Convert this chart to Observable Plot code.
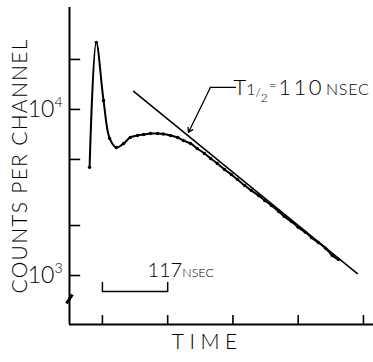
<!DOCTYPE html>
<html><head><meta charset="utf-8">
<script src="https://cdn.jsdelivr.net/npm/d3@7"></script>
<script src="https://cdn.jsdelivr.net/npm/@observablehq/plot@0.6"></script>
<style>html,body{margin:0;padding:0;background:#fff}</style>
</head><body><div id="chart"></div>
<script>
// Measured decay spectrum (time in ns relative to the scale-bar start, counts per channel)
const timeNs = [-23, -11, 2, 13, 25, 38, 50, 63, 74, 86, 99, 109, 122, 135, 145, 158, 170, 183, 194, 206, 219, 231, 242, 255, 267, 280, 291, 303, 316, 326, 339, 351, 364, 375, 387, 400, 412, 423];
const counts = [4480, 25350, 11330, 6690, 5900, 6240, 6780, 6970, 7060, 7160, 7160, 7110, 6970, 6780, 6500, 6240, 5820, 5430, 5070, 4730, 4350, 4060, 3790, 3480, 3250, 3030, 2830, 2640, 2430, 2270, 2110, 1950, 1820, 1690, 1580, 1460, 1320, 1250];
// Exponential fit, T1/2 = 110 ns
const fitTimeNs = [56, 457];
const fitCounts = [12830, 1028];
// Axes
const yTickValues = [20000, 10000, 5000, 2000, 1000];
const yTickLabels = ["", "10^4", "", "", "10^3"];
const xTickValues = [0, 117, 234, 351, 468];
const scaleBarNs = [0, 117];
const scaleBarLabel = "117NSEC";
const halfLifeLabel = "T1/2=110 NSEC";
const xTitle = "TIME";
const yTitle = "COUNTS PER CHANNEL";

const xDomain = [-59, 486];
const yDomain = [507, 41100];

const data = timeNs.map((t, i) => ({t, c: counts[i]}));
const fit = fitTimeNs.map((t, i) => ({t, c: fitCounts[i]}));
const yLabels = yTickValues.map((v, i) => ({v, s: yTickLabels[i]})).filter(d => d.s);
const bar = [
  {t: scaleBarNs[0], c: 908}, {t: scaleBarNs[0], c: 802},
  {t: scaleBarNs[1], c: 802}, {t: scaleBarNs[1], c: 908}
];
const leader = [{t: 238.5, c: 13570}, {t: 193.6, c: 13570}];

const ink = "#000";
const font = "Lato, 'DejaVu Sans', sans-serif";
const plot = Plot.plot({
  width: 373, height: 362,
  marginLeft: 69, marginRight: 0, marginTop: 7, marginBottom: 38,
  style: {fontFamily: font, background: "#fff", color: ink, overflow: "visible"},
  x: {domain: xDomain, axis: null},
  y: {type: "log", domain: yDomain, axis: null},
  marks: [
    // axes
    Plot.ruleX([xDomain[0]], {y1: yDomain[0], y2: yDomain[1], stroke: ink, strokeWidth: 2}),
    Plot.ruleY([yDomain[0]], {x1: xDomain[0], x2: xDomain[1], stroke: ink, strokeWidth: 2}),
    Plot.ruleY(yTickValues, {y: d => d, x1: xDomain[0], x2: xDomain[0] + 20, stroke: ink, strokeWidth: 1.6}),
    Plot.ruleX(xTickValues, {x: d => d, y1: yDomain[0], y2: 574, stroke: ink, strokeWidth: 1.6}),
    Plot.link([0], {x1: -64.5, y1: 678, x2: -53.8, y2: 769, stroke: ink, strokeWidth: 3}),
    Plot.text(yLabels, {x: xDomain[0], y: "v", text: "s", dx: -7, textAnchor: "end", fontSize: 23, fontWeight: 300, fill: ink}),
    Plot.text([yTitle], {frameAnchor: "left", dx: -49, rotate: -90, textAnchor: "middle", fontSize: 21, fontWeight: 300, fill: ink}),
    Plot.text([xTitle], {x: 188, frameAnchor: "bottom", dy: 24, fontSize: 21, fontWeight: 300, fill: ink}),
    // fit line
    Plot.line(fit, {x: "t", y: "c", stroke: ink, strokeWidth: 1.6}),
    // data
    Plot.line(data, {x: "t", y: "c", curve: "catmull-rom", stroke: ink, strokeWidth: 2}),
    Plot.dot(data, {x: "t", y: "c", r: 1.7, fill: ink}),
    // annotation
    Plot.line(leader, {x: "t", y: "c", stroke: ink, strokeWidth: 1.3}),
    Plot.arrow([0], {x1: 193.6, y1: 13570, x2: 154.2, y2: 7260, stroke: ink, strokeWidth: 1.3, headLength: 6, insetEnd: 0}),
    Plot.text([halfLifeLabel], {x: 234.9, y: 12146, textAnchor: "start", lineAnchor: "bottom", fontSize: 22, fontWeight: 300, fill: ink}),
    // scale bar
    Plot.line(bar, {x: "t", y: "c", stroke: ink, strokeWidth: 1.5}),
    Plot.text([scaleBarLabel], {x: 80.7, y: 973, textAnchor: "start", lineAnchor: "bottom", fontSize: 21, fontWeight: 300, fill: ink})
  ]
});

const rich = {
  "10^4": [{t: "10", size: 23}, {t: "4", size: 14, dy: -10}],
  "10^3": [{t: "10", size: 23}, {t: "3", size: 14, dy: -10}],
  "T1/2=110 NSEC": [
    {t: "T", size: 22}, {t: "1", size: 16}, {t: "/", size: 12, dy: 2}, {t: "2", size: 12, dy: 5},
    {t: "=", size: 13, dy: -12, dx: 1}, {t: "110", size: 22, dy: 5, ls: 2.5, dx: 2}, {t: "NSEC", size: 16, ls: 0.8, dx: 2}
  ],
  "117NSEC": [{t: "117", size: 20, ls: 0}, {t: "NSEC", size: 12.5}],
  "TIME": [{t: "TIME", size: 21, ls: 5.5}],
  "COUNTS PER CHANNEL": [{t: "COUNTS PER CHANNEL", size: 21, ls: 1.3}]
};
d3.select(plot).selectAll("text").each(function() {
  const s = this.textContent;
  const parts = rich[s];
  if (!parts) return;
  const el = d3.select(this);
  el.text(null);
  parts.forEach(p => {
    const ts = el.append("tspan").attr("font-size", p.size).text(p.t);
    if (p.dy) ts.attr("dy", p.dy);
    if (p.dx) ts.attr("dx", p.dx);
    if (p.ls) ts.attr("letter-spacing", p.ls);
  });
});
document.getElementById("chart").appendChild(plot);
</script>
</body></html>
